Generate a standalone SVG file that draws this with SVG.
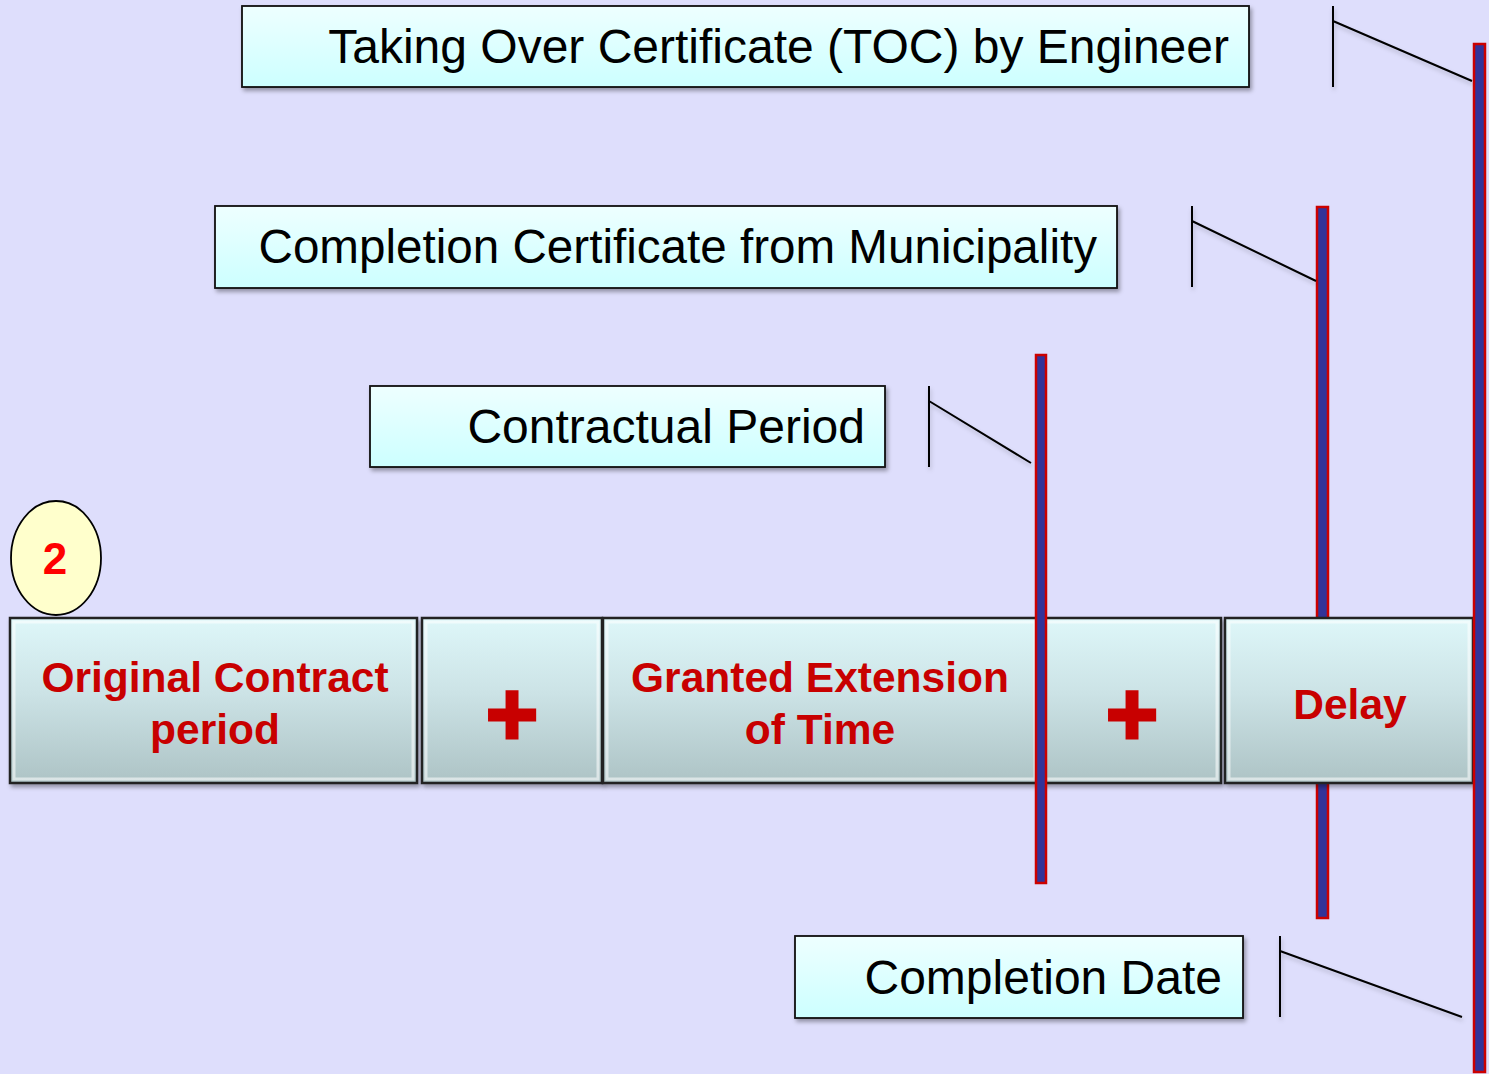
<svg xmlns="http://www.w3.org/2000/svg" width="1489" height="1074" viewBox="0 0 1489 1074">
<style>
.lbl{fill:url(#lg);stroke:#111;stroke-width:1.8;filter:url(#sh)}
.lt{font-family:"Liberation Sans",Arial,sans-serif;font-size:48px;fill:#000;text-anchor:end}
.tb{fill:url(#tg);stroke:#222;stroke-width:2.5;filter:url(#sh)}
.bev{fill:none;stroke:#fff;stroke-opacity:0.55;stroke-width:3}
.tt{font-family:"Liberation Sans",Arial,sans-serif;font-weight:bold;font-size:42.5px;fill:#C80000;text-anchor:middle}
.pl{font-family:"Liberation Sans",Arial,sans-serif;font-weight:bold;font-size:90px;fill:#C80000;stroke:#C80000;stroke-width:3;text-anchor:middle}
.bar{fill:#333399;stroke:#CC0000;stroke-width:2.5}
.cl{fill:none;stroke:#000;stroke-width:2;filter:url(#sh2)}
</style>
<defs>
<linearGradient id="lg" x1="0" y1="0" x2="0" y2="1"><stop offset="0" stop-color="#EEFFFF"/><stop offset="1" stop-color="#CCFFFF"/></linearGradient>
<linearGradient id="tg" x1="0" y1="0" x2="0" y2="1"><stop offset="0" stop-color="#DEF7F9"/><stop offset="0.45" stop-color="#CCE3E6"/><stop offset="1" stop-color="#ADC3C5"/></linearGradient>
<filter id="sh" x="-5%" y="-10%" width="110%" height="130%"><feDropShadow dx="2" dy="3" stdDeviation="2" flood-color="#000" flood-opacity="0.35"/></filter>
<filter id="sh2" x="-10%" y="-10%" width="120%" height="130%"><feDropShadow dx="1" dy="3" stdDeviation="2" flood-color="#000" flood-opacity="0.2"/></filter>
</defs>
<rect width="1489" height="1074" fill="#DEDEFC"/>

<g id="bar-municipality"><rect class="bar" x="1317" y="207" width="11" height="711"/></g>

<g id="label-toc"><rect class="lbl" x="242" y="6" width="1007" height="81"/><text class="lt" x="1229" y="63">Taking Over Certificate (TOC) by Engineer</text></g>
<g id="label-municipality"><rect class="lbl" x="215" y="206" width="902" height="82"/><text class="lt" x="1097" y="263" style="font-size:47.6px">Completion Certificate from Municipality</text></g>
<g id="label-contractual"><rect class="lbl" x="370" y="386" width="515" height="81"/><text class="lt" x="865" y="443">Contractual Period</text></g>
<g id="label-completion"><rect class="lbl" x="795" y="936" width="448" height="82"/><text class="lt" x="1222" y="994">Completion Date</text></g>

<g id="connectors">
<path class="cl" d="M1333 6V87M1333 21L1472 81"/>
<path class="cl" d="M1192 206V287M1192 221L1316 281"/>
<path class="cl" d="M929 386V467M929 401L1031 463"/>
<path class="cl" d="M1280 936V1017M1280 951L1462 1017"/>
</g>

<g id="badge"><ellipse cx="56" cy="558" rx="45" ry="57" fill="#FFFFCC" stroke="#000" stroke-width="1.8"/><text x="55" y="574" font-family="Liberation Sans,Arial,sans-serif" font-weight="bold" font-size="44" fill="#FF0000" text-anchor="middle">2</text></g>

<g id="box-original"><rect class="tb" x="10" y="618" width="407" height="165"/><rect class="bev" x="14" y="622" width="399" height="157"/><text class="tt" x="215" y="692">Original Contract</text><text class="tt" x="215" y="744">period</text></g>
<g id="box-plus1"><rect class="tb" x="422" y="618" width="180" height="165"/><rect class="bev" x="426" y="622" width="172" height="157"/><text class="pl" x="512" y="745">+</text></g>
<g id="box-eot"><rect class="tb" x="603" y="618" width="436" height="165"/><rect class="bev" x="607" y="622" width="428" height="157"/><text class="tt" x="820" y="692">Granted Extension</text><text class="tt" x="820" y="744">of Time</text></g>
<g id="box-plus2"><rect class="tb" x="1041" y="618" width="180" height="165"/><rect class="bev" x="1045" y="622" width="172" height="157"/><text class="pl" x="1132" y="745">+</text></g>
<g id="box-delay"><rect class="tb" x="1225" y="618" width="248" height="165"/><rect class="bev" x="1229" y="622" width="240" height="157"/><text class="tt" x="1350" y="719">Delay</text></g>

<g id="bar-contractual"><rect class="bar" x="1036" y="355" width="10" height="528"/></g>
<g id="bar-toc"><rect class="bar" x="1474" y="44" width="11" height="1028"/></g>
</svg>
